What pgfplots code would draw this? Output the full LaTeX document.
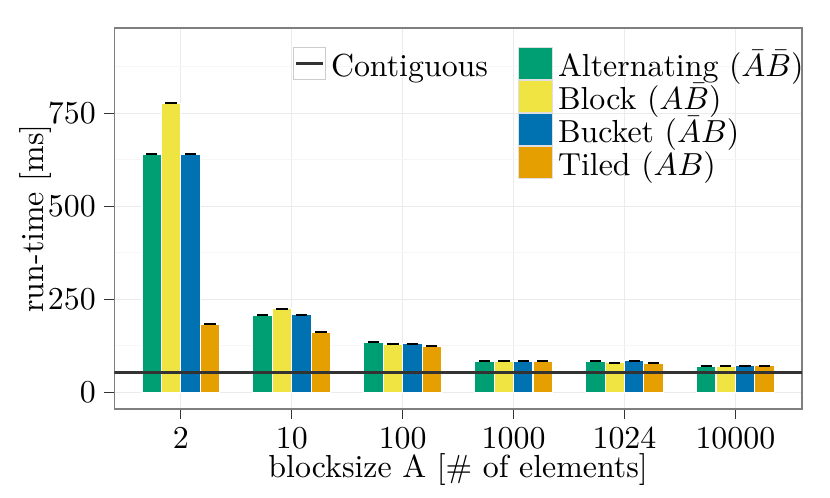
\documentclass[border=0pt]{standalone}
\usepackage{pgfplots}
\pgfplotsset{compat=1.18}
\definecolor{cgreen}{HTML}{009E73}
\definecolor{cyellow}{HTML}{F0E442}
\definecolor{cblue}{HTML}{0072B2}
\definecolor{corange}{HTML}{E69F00}
\definecolor{gridmaj}{HTML}{EBEBEB}
\definecolor{gridmin}{HTML}{F6F6F6}
\definecolor{dark}{HTML}{333333}
\definecolor{border}{HTML}{7F7F7F}
\begin{document}
\begin{tikzpicture}
\useasboundingbox (-35.72bp,-27.81bp) rectangle (223.66bp,127.81bp);
\begin{axis}[
  at={(0,0)}, anchor=south west,
  scale only axis, width=214.9bp, height=119.06bp,
  xmin=-0.6, xmax=5.6, ymin=-45, ymax=979,
  xtick={0,1,2,3,4,5}, xticklabels={2,10,100,1000,1024,10000},
  ytick={0,250,500,750}, minor ytick={125,375,625,875},
  tick pos=left, tick align=outside,
  major tick length=3.1bp, minor tick length=0pt,
  tick style={dark, line width=0.4bp},
  grid=both,
  major grid style={gridmaj, line width=0.35bp},
  minor grid style={gridmin, line width=0.35bp},
  axis line style={border, line width=0.35bp},
  xlabel={blocksize A [\# of elements]},
  ylabel={run-time [ms]},
  xlabel style={at={(axis description cs:0.5,0)}, anchor=base, yshift=-21.3bp},
  ylabel style={at={(axis description cs:-0.1033,0.5)}, anchor=base},
  xticklabel style={anchor=base, inner sep=0pt, yshift=-9.2bp},
  yticklabel style={anchor=east, inner sep=0pt, xshift=-2.5bp},
  ybar, bar width=0.175,
  barstyle/.style={fill=#1, draw=white, line width=0.35bp,
    error bars/y dir=both, error bars/y explicit,
    error bars/error bar style={black, line width=0.45bp},
    error bars/error mark options={rotate=90, mark size=1.77bp, line width=0.45bp, black}},
  barkey/.style={legend image code/.code={\draw[fill=#1, draw=gray!25, line width=0.3bp] (0bp,-5.0bp) rectangle (10.6bp,5.0bp);}},
  linekey/.style={legend image code/.code={\draw[fill=white, draw=gray!40, line width=0.3bp] (0bp,-4.9bp) rectangle (10bp,4.9bp); \draw[dark, line width=1.05bp] (0.7bp,0bp) -- (9.3bp,0bp);}},
  legend style={draw=none, fill=none, inner sep=0pt, outer sep=0pt,
    at={(axis description cs:0.2598,0.9501)}, anchor=north west,
    row sep=0pt, column sep=1.6bp,
    /tikz/every even column/.append style={column sep=9.4bp},
    nodes={inner sep=0pt, outer sep=0pt, text height=8.4bp, text depth=0.2bp}},
  legend cell align=left, legend columns=2,
]
% Alternating
\addplot[barstyle=cgreen, bar shift=-0.2625, forget plot] coordinates {
 (0,640) +- (0,1.2) (1,207) +- (0,1) (2,134) +- (0,0.8) (3,84) +- (0,0.8) (4,83) +- (0,0.8) (5,69.5) +- (0,0.8)};
% Block
\addplot[barstyle=cyellow, bar shift=-0.0875, forget plot] coordinates {
 (0,777) +- (0,1.5) (1,224) +- (0,1) (2,129.5) +- (0,0.8) (3,84) +- (0,0.8) (4,79.5) +- (0,0.8) (5,69.5) +- (0,0.8)};
% Bucket
\addplot[barstyle=cblue, bar shift=0.0875, forget plot] coordinates {
 (0,640) +- (0,1.2) (1,208) +- (0,1) (2,130.5) +- (0,0.8) (3,84) +- (0,0.8) (4,84.5) +- (0,0.8) (5,71) +- (0,1)};
% Tiled
\addplot[barstyle=corange, bar shift=0.2625, forget plot] coordinates {
 (0,183.5) +- (0,1) (1,161) +- (0,1) (2,124) +- (0,0.8) (3,84) +- (0,0.8) (4,78) +- (0,0.8) (5,71) +- (0,1)};
% Contiguous
\addplot[sharp plot, dark, line width=1.05bp, forget plot] coordinates {(-0.6,52.7) (5.6,52.7)};
\addlegendimage{linekey}
\addlegendentry{Contiguous}
\addlegendimage{barkey=cgreen}
\addlegendentry{Alternating ($\bar{A}\bar{B}$)}
\addlegendimage{empty legend}
\addlegendentry{}
\addlegendimage{barkey=cyellow}
\addlegendentry{Block ($A\bar{B}$)}
\addlegendimage{empty legend}
\addlegendentry{}
\addlegendimage{barkey=cblue}
\addlegendentry{Bucket ($\bar{A}B$)}
\addlegendimage{empty legend}
\addlegendentry{}
\addlegendimage{barkey=corange}
\addlegendentry{Tiled ($AB$)}
\end{axis}
\end{tikzpicture}
\end{document}
